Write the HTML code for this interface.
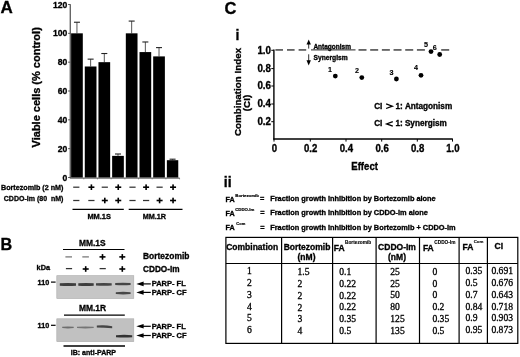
<!DOCTYPE html>
<html><head><meta charset="utf-8"><style>
html,body{margin:0;padding:0;background:#fff;width:520px;height:357px;overflow:hidden;}
svg{display:block;font-family:"Liberation Sans",sans-serif;will-change:transform;}
</style></head><body>
<svg width="520" height="357" viewBox="0 0 520 357"><defs><filter id="blur" x="-20%" y="-100%" width="140%" height="300%"><feGaussianBlur stdDeviation="0.55"/></filter></defs><text x="0.5" y="13.4" font-size="17" font-weight="bold" font-family="Liberation Sans" text-anchor="start" fill="#000" stroke="#000" stroke-width="0.32" >A</text>
<text x="0" y="0" font-size="11" font-weight="bold" font-family="Liberation Sans" text-anchor="middle" fill="#000" stroke="#000" stroke-width="0.32" transform="translate(39.6,87.3) rotate(-90)">Viable cells (% control)</text>
<line x1="70.3" y1="4.3" x2="70.3" y2="178.0" stroke="#666" stroke-width="1.4" />
<line x1="69.8" y1="178.1" x2="179.6" y2="178.1" stroke="#444" stroke-width="1.0" />
<line x1="83.78999999999999" y1="178.1" x2="83.78999999999999" y2="179.3" stroke="#666" stroke-width="0.8" />
<line x1="97.47" y1="178.1" x2="97.47" y2="179.3" stroke="#666" stroke-width="0.8" />
<line x1="111.14999999999999" y1="178.1" x2="111.14999999999999" y2="179.3" stroke="#666" stroke-width="0.8" />
<line x1="124.82999999999998" y1="178.1" x2="124.82999999999998" y2="179.3" stroke="#666" stroke-width="0.8" />
<line x1="138.51" y1="178.1" x2="138.51" y2="179.3" stroke="#666" stroke-width="0.8" />
<line x1="152.19" y1="178.1" x2="152.19" y2="179.3" stroke="#666" stroke-width="0.8" />
<line x1="165.87" y1="178.1" x2="165.87" y2="179.3" stroke="#666" stroke-width="0.8" />
<line x1="179.54999999999998" y1="178.1" x2="179.54999999999998" y2="179.3" stroke="#666" stroke-width="0.8" />
<line x1="68.1" y1="177.5" x2="70.3" y2="177.5" stroke="#555" stroke-width="1.0" />
<text x="67.4" y="180.51" font-size="8.6" font-weight="bold" font-family="Liberation Sans" text-anchor="end" fill="#000" stroke="#000" stroke-width="0.32" >0</text>
<line x1="68.1" y1="148.66666666666666" x2="70.3" y2="148.66666666666666" stroke="#555" stroke-width="1.0" />
<text x="67.4" y="151.68" font-size="8.6" font-weight="bold" font-family="Liberation Sans" text-anchor="end" fill="#000" stroke="#000" stroke-width="0.32" >20</text>
<line x1="68.1" y1="119.83333333333334" x2="70.3" y2="119.83333333333334" stroke="#555" stroke-width="1.0" />
<text x="67.4" y="122.84" font-size="8.6" font-weight="bold" font-family="Liberation Sans" text-anchor="end" fill="#000" stroke="#000" stroke-width="0.32" >40</text>
<line x1="68.1" y1="91.0" x2="70.3" y2="91.0" stroke="#555" stroke-width="1.0" />
<text x="67.4" y="94.01" font-size="8.6" font-weight="bold" font-family="Liberation Sans" text-anchor="end" fill="#000" stroke="#000" stroke-width="0.32" >60</text>
<line x1="68.1" y1="62.16666666666667" x2="70.3" y2="62.16666666666667" stroke="#555" stroke-width="1.0" />
<text x="67.4" y="65.18" font-size="8.6" font-weight="bold" font-family="Liberation Sans" text-anchor="end" fill="#000" stroke="#000" stroke-width="0.32" >80</text>
<line x1="68.1" y1="33.33333333333334" x2="70.3" y2="33.33333333333334" stroke="#555" stroke-width="1.0" />
<text x="67.4" y="36.34" font-size="8.6" font-weight="bold" font-family="Liberation Sans" text-anchor="end" fill="#000" stroke="#000" stroke-width="0.32" >100</text>
<line x1="68.1" y1="4.5" x2="70.3" y2="4.5" stroke="#555" stroke-width="1.0" />
<text x="67.4" y="7.51" font-size="8.6" font-weight="bold" font-family="Liberation Sans" text-anchor="end" fill="#000" stroke="#000" stroke-width="0.32" >120</text>
<line x1="76.94999999999999" y1="22.232499999999987" x2="76.94999999999999" y2="33.33333333333334" stroke="#555" stroke-width="1.0" />
<line x1="73.94999999999999" y1="22.232499999999987" x2="79.94999999999999" y2="22.232499999999987" stroke="#222" stroke-width="1.1" />
<rect x="71.1" y="33.33333333333334" width="11.7" height="144.16666666666666" fill="#000" />
<line x1="90.63" y1="59.13916666666668" x2="90.63" y2="66.49166666666667" stroke="#555" stroke-width="1.0" />
<line x1="87.63" y1="59.13916666666668" x2="93.63" y2="59.13916666666668" stroke="#222" stroke-width="1.1" />
<rect x="84.78" y="66.49166666666667" width="11.7" height="111.00833333333333" fill="#000" />
<line x1="104.30999999999999" y1="53.516666666666666" x2="104.30999999999999" y2="62.16666666666667" stroke="#555" stroke-width="1.0" />
<line x1="101.30999999999999" y1="53.516666666666666" x2="107.30999999999999" y2="53.516666666666666" stroke="#222" stroke-width="1.1" />
<rect x="98.46" y="62.16666666666667" width="11.7" height="115.33333333333333" fill="#000" />
<line x1="117.98999999999998" y1="154.00083333333333" x2="117.98999999999998" y2="155.875" stroke="#555" stroke-width="1.0" />
<line x1="114.98999999999998" y1="154.00083333333333" x2="120.98999999999998" y2="154.00083333333333" stroke="#222" stroke-width="1.1" />
<rect x="112.13999999999999" y="155.875" width="11.7" height="21.625" fill="#000" />
<line x1="131.67" y1="21.07916666666668" x2="131.67" y2="33.33333333333334" stroke="#555" stroke-width="1.0" />
<line x1="128.67" y1="21.07916666666668" x2="134.67" y2="21.07916666666668" stroke="#222" stroke-width="1.1" />
<rect x="125.82" y="33.33333333333334" width="11.7" height="144.16666666666666" fill="#000" />
<line x1="145.35" y1="41.98333333333335" x2="145.35" y2="52.075" stroke="#555" stroke-width="1.0" />
<line x1="142.35" y1="41.98333333333335" x2="148.35" y2="41.98333333333335" stroke="#222" stroke-width="1.1" />
<rect x="139.5" y="52.075" width="11.7" height="125.425" fill="#000" />
<line x1="159.03" y1="47.60583333333335" x2="159.03" y2="56.400000000000006" stroke="#555" stroke-width="1.0" />
<line x1="156.03" y1="47.60583333333335" x2="162.03" y2="47.60583333333335" stroke="#222" stroke-width="1.1" />
<rect x="153.18" y="56.400000000000006" width="11.7" height="121.1" fill="#000" />
<line x1="172.55999999999997" y1="159.19083333333333" x2="172.55999999999997" y2="160.2" stroke="#555" stroke-width="1.0" />
<line x1="169.55999999999997" y1="159.19083333333333" x2="175.55999999999997" y2="159.19083333333333" stroke="#222" stroke-width="1.1" />
<rect x="166.85999999999999" y="160.2" width="11.4" height="17.3" fill="#000" />
<text x="1.0" y="189.9" font-size="7.6" font-weight="bold" font-family="Liberation Sans" text-anchor="start" fill="#000" stroke="#000" stroke-width="0.32"  textLength="62.4" lengthAdjust="spacingAndGlyphs">Bortezomib (2 nM)</text>
<text x="3.8" y="201.4" font-size="7.6" font-weight="bold" font-family="Liberation Sans" text-anchor="start" fill="#000" stroke="#000" stroke-width="0.32"  textLength="59.6" lengthAdjust="spacingAndGlyphs">CDDO-Im (80 &#160;nM)</text>
<rect x="73.2" y="186.57" width="6.2" height="1.25" fill="#333" />
<rect x="73.2" y="199.88" width="6.2" height="1.25" fill="#333" />
<rect x="88.4" y="186.4" width="6.0" height="1.6" fill="#000" />
<rect x="90.6" y="184.4" width="1.6" height="5.6" fill="#000" />
<rect x="88.3" y="199.88" width="6.2" height="1.25" fill="#333" />
<rect x="101.7" y="186.57" width="6.2" height="1.25" fill="#333" />
<rect x="101.8" y="199.7" width="6.0" height="1.6" fill="#000" />
<rect x="104.0" y="197.7" width="1.6" height="5.6" fill="#000" />
<rect x="115.25" y="186.4" width="6.0" height="1.6" fill="#000" />
<rect x="117.45" y="184.4" width="1.6" height="5.6" fill="#000" />
<rect x="115.25" y="199.7" width="6.0" height="1.6" fill="#000" />
<rect x="117.45" y="197.7" width="1.6" height="5.6" fill="#000" />
<rect x="129.4" y="186.57" width="6.2" height="1.25" fill="#333" />
<rect x="129.4" y="199.88" width="6.2" height="1.25" fill="#333" />
<rect x="143.1" y="186.4" width="6.0" height="1.6" fill="#000" />
<rect x="145.3" y="184.4" width="1.6" height="5.6" fill="#000" />
<rect x="143.0" y="199.88" width="6.2" height="1.25" fill="#333" />
<rect x="156.5" y="186.57" width="6.2" height="1.25" fill="#333" />
<rect x="156.6" y="199.7" width="6.0" height="1.6" fill="#000" />
<rect x="158.8" y="197.7" width="1.6" height="5.6" fill="#000" />
<rect x="170.05" y="186.4" width="6.0" height="1.6" fill="#000" />
<rect x="172.25" y="184.4" width="1.6" height="5.6" fill="#000" />
<rect x="170.05" y="199.7" width="6.0" height="1.6" fill="#000" />
<rect x="172.25" y="197.7" width="1.6" height="5.6" fill="#000" />
<line x1="72.5" y1="209.3" x2="123.8" y2="209.3" stroke="#000" stroke-width="1.2" />
<line x1="128.7" y1="209.3" x2="182.5" y2="209.3" stroke="#000" stroke-width="1.2" />
<text x="99.2" y="218.86" font-size="7.9" font-weight="bold" font-family="Liberation Sans" text-anchor="middle" fill="#000" stroke="#000" stroke-width="0.32"  textLength="23.6" lengthAdjust="spacingAndGlyphs">MM.1S</text>
<text x="154.4" y="218.86" font-size="7.9" font-weight="bold" font-family="Liberation Sans" text-anchor="middle" fill="#000" stroke="#000" stroke-width="0.32"  textLength="23.4" lengthAdjust="spacingAndGlyphs">MM.1R</text>
<text x="0.4" y="250.2" font-size="16.2" font-weight="bold" font-family="Liberation Sans" text-anchor="start" fill="#000" stroke="#000" stroke-width="0.32" >B</text>
<text x="92.3" y="245.9" font-size="9.3" font-weight="bold" font-family="Liberation Sans" text-anchor="middle" fill="#000" stroke="#000" stroke-width="0.32"  textLength="26.6" lengthAdjust="spacingAndGlyphs">MM.1S</text>
<line x1="63" y1="249.5" x2="124.5" y2="249.5" stroke="#000" stroke-width="1.2" />
<rect x="65.4" y="256.27" width="6.6" height="1.25" fill="#767676" />
<rect x="65.9" y="267.98" width="6.2" height="1.25" fill="#333" />
<rect x="82.3" y="256.27" width="6.6" height="1.25" fill="#767676" />
<rect x="82.7" y="268.2" width="6.0" height="1.6" fill="#000" />
<rect x="84.9" y="266.2" width="1.6" height="5.6" fill="#000" />
<rect x="99.5" y="256.1" width="6.0" height="1.6" fill="#000" />
<rect x="101.7" y="254.1" width="1.6" height="5.6" fill="#000" />
<rect x="99.6" y="267.98" width="6.2" height="1.25" fill="#333" />
<rect x="119.3" y="256.1" width="6.0" height="1.6" fill="#000" />
<rect x="121.5" y="254.1" width="1.6" height="5.6" fill="#000" />
<rect x="119.3" y="268.2" width="6.0" height="1.6" fill="#000" />
<rect x="121.5" y="266.2" width="1.6" height="5.6" fill="#000" />
<text x="143.0" y="259.4" font-size="8.6" font-weight="bold" font-family="Liberation Sans" text-anchor="start" fill="#000" stroke="#000" stroke-width="0.32"  textLength="46.4" lengthAdjust="spacingAndGlyphs">Bortezomib</text>
<text x="143.0" y="271.5" font-size="8.6" font-weight="bold" font-family="Liberation Sans" text-anchor="start" fill="#000" stroke="#000" stroke-width="0.32"  textLength="36.6" lengthAdjust="spacingAndGlyphs">CDDO-Im</text>
<text x="36.6" y="269.9" font-size="7.3" font-weight="bold" font-family="Liberation Sans" text-anchor="start" fill="#000" stroke="#000" stroke-width="0.32" >kDa</text>
<rect x="56.8" y="275.7" width="77" height="22.8" fill="#c6c6c6" stroke="#aaa" stroke-width="0.6"/>
<rect x="56.8" y="318.8" width="77" height="22.8" fill="#c1c1c1" stroke="#aaa" stroke-width="0.6"/>
<path d="M59.8 283.35 Q67.9 282.65000000000003 76 283.35 L76 285.65 Q67.9 286.34999999999997 59.8 285.65 Z" fill="#3c3c3c" opacity="1" filter="url(#blur)"/>
<path d="M78.3 283.35 Q86.0 282.65000000000003 93.7 283.35 L93.7 285.65 Q86.0 286.34999999999997 78.3 285.65 Z" fill="#3c3c3c" opacity="1" filter="url(#blur)"/>
<path d="M96 283.3 Q103.85 282.6 111.7 283.3 L111.7 285.49999999999994 Q103.85 286.19999999999993 96 285.49999999999994 Z" fill="#444" opacity="1" filter="url(#blur)"/>
<path d="M115.2 283.05 Q122.9 282.35 130.6 283.05 L130.6 284.95 Q122.9 285.65 115.2 284.95 Z" fill="#444" opacity="1" filter="url(#blur)"/>
<path d="M115.8 292.15000000000003 Q123.19999999999999 291.45000000000005 130.6 292.15000000000003 L130.6 294.05 Q123.19999999999999 294.75 115.8 294.05 Z" fill="#474747" opacity="1" filter="url(#blur)"/>
<path d="M62.2 326.75 Q67.95 326.05 73.7 326.75 L73.7 328.04999999999995 Q67.95 328.74999999999994 62.2 328.04999999999995 Z" fill="#6e6e6e" opacity="1" filter="url(#blur)"/>
<path d="M77 326.75 Q85.35 326.05 93.7 326.75 L93.7 328.04999999999995 Q85.35 328.74999999999994 77 328.04999999999995 Z" fill="#757575" opacity="1" filter="url(#blur)"/>
<path d="M96.8 325.55 Q104.5 324.45000000000005 112.2 326.35 L112.2 328.25 Q104.5 327.75 96.8 327.45 Z" fill="#444" opacity="1" filter="url(#blur)"/>
<path d="M116 335.15 Q124.1 334.45 132.2 335.15 L132.2 337.25 Q124.1 337.95 116 337.25 Z" fill="#333" opacity="1" filter="url(#blur)"/>
<text x="37.6" y="284.65" font-size="7.2" font-weight="bold" font-family="Liberation Sans" text-anchor="start" fill="#000" stroke="#000" stroke-width="0.32" >110</text>
<rect x="51.0" y="281.5" width="4.6" height="1.2" fill="#000" />
<text x="37.6" y="327.85" font-size="7.2" font-weight="bold" font-family="Liberation Sans" text-anchor="start" fill="#000" stroke="#000" stroke-width="0.32" >110</text>
<rect x="51.0" y="324.7" width="4.6" height="1.2" fill="#000" />
<path d="M136.3 283.9 L143.6 281.59999999999997 L143.6 286.2 Z" fill="#000"/>
<rect x="143" y="283.29999999999995" width="7.8" height="1.2" fill="#000" />
<text x="151.7" y="286.35" font-size="7.5" font-weight="bold" font-family="Liberation Sans" text-anchor="start" fill="#000" stroke="#000" stroke-width="0.32" >PARP- FL</text>
<path d="M136.3 292.4 L143.6 290.09999999999997 L143.6 294.7 Z" fill="#000"/>
<rect x="143" y="291.79999999999995" width="7.8" height="1.2" fill="#000" />
<text x="151.7" y="294.85" font-size="7.5" font-weight="bold" font-family="Liberation Sans" text-anchor="start" fill="#000" stroke="#000" stroke-width="0.32" >PARP- CF</text>
<path d="M136.3 326.3 L143.6 324.0 L143.6 328.6 Z" fill="#000"/>
<rect x="143" y="325.7" width="7.8" height="1.2" fill="#000" />
<text x="151.7" y="328.75" font-size="7.5" font-weight="bold" font-family="Liberation Sans" text-anchor="start" fill="#000" stroke="#000" stroke-width="0.32" >PARP- FL</text>
<path d="M136.3 335.5 L143.6 333.2 L143.6 337.8 Z" fill="#000"/>
<rect x="143" y="334.9" width="7.8" height="1.2" fill="#000" />
<text x="151.7" y="337.95" font-size="7.5" font-weight="bold" font-family="Liberation Sans" text-anchor="start" fill="#000" stroke="#000" stroke-width="0.32" >PARP- CF</text>
<text x="92.5" y="311.0" font-size="9.3" font-weight="bold" font-family="Liberation Sans" text-anchor="middle" fill="#000" stroke="#000" stroke-width="0.32"  textLength="27.2" lengthAdjust="spacingAndGlyphs">MM.1R</text>
<line x1="64" y1="315.1" x2="124.8" y2="315.1" stroke="#000" stroke-width="1.2" />
<line x1="63.5" y1="346.0" x2="125" y2="346.0" stroke="#000" stroke-width="1.3" />
<text x="93.4" y="355.3" font-size="7.5" font-weight="bold" font-family="Liberation Sans" text-anchor="middle" fill="#000" stroke="#000" stroke-width="0.32"  textLength="45.3" lengthAdjust="spacingAndGlyphs">IB: anti-PARP</text>
<text x="224.5" y="14.0" font-size="16.5" font-weight="bold" font-family="Liberation Sans" text-anchor="start" fill="#000" stroke="#000" stroke-width="0.32" >C</text>
<text x="235.6" y="39.5" font-size="14" font-weight="bold" font-family="Liberation Sans" text-anchor="start" fill="#000" stroke="#000" stroke-width="0.32" >i</text>
<text x="0" y="0" font-size="9.8" font-weight="bold" font-family="Liberation Sans" text-anchor="middle" fill="#000" stroke="#000" stroke-width="0.32" transform="translate(241.4,92) rotate(-90)">Combination Index</text>
<text x="0" y="0" font-size="9.8" font-weight="bold" font-family="Liberation Sans" text-anchor="middle" fill="#000" stroke="#000" stroke-width="0.32" transform="translate(250.2,103.0) rotate(-90)">(CI)</text>
<line x1="273.9" y1="49.4" x2="273.9" y2="139.6" stroke="#000" stroke-width="1.4" />
<line x1="273.29999999999995" y1="139.0" x2="452.8" y2="139.0" stroke="#000" stroke-width="1.3" />
<line x1="271.29999999999995" y1="50.3" x2="273.9" y2="50.3" stroke="#000" stroke-width="1.0" />
<text x="0" y="0" font-size="9.8" font-weight="bold" font-family="Liberation Sans" text-anchor="end" fill="#000" stroke="#000" stroke-width="0.32"  transform="translate(271.0,53.73) scale(1,1.04)">1.0</text>
<line x1="271.29999999999995" y1="68.6" x2="273.9" y2="68.6" stroke="#000" stroke-width="1.0" />
<text x="0" y="0" font-size="9.8" font-weight="bold" font-family="Liberation Sans" text-anchor="end" fill="#000" stroke="#000" stroke-width="0.32"  transform="translate(271.0,72.03) scale(1,1.04)">0.8</text>
<line x1="271.29999999999995" y1="86.0" x2="273.9" y2="86.0" stroke="#000" stroke-width="1.0" />
<text x="0" y="0" font-size="9.8" font-weight="bold" font-family="Liberation Sans" text-anchor="end" fill="#000" stroke="#000" stroke-width="0.32"  transform="translate(271.0,89.43) scale(1,1.04)">0.6</text>
<line x1="271.29999999999995" y1="104.0" x2="273.9" y2="104.0" stroke="#000" stroke-width="1.0" />
<text x="0" y="0" font-size="9.8" font-weight="bold" font-family="Liberation Sans" text-anchor="end" fill="#000" stroke="#000" stroke-width="0.32"  transform="translate(271.0,107.43) scale(1,1.04)">0.4</text>
<line x1="271.29999999999995" y1="121.7" x2="273.9" y2="121.7" stroke="#000" stroke-width="1.0" />
<text x="0" y="0" font-size="9.8" font-weight="bold" font-family="Liberation Sans" text-anchor="end" fill="#000" stroke="#000" stroke-width="0.32"  transform="translate(271.0,125.13) scale(1,1.04)">0.2</text>
<line x1="274" y1="139.0" x2="274" y2="141.6" stroke="#000" stroke-width="1.0" />
<text x="0" y="0" font-size="9.6" font-weight="bold" font-family="Liberation Sans" text-anchor="middle" fill="#000" stroke="#000" stroke-width="0.32"  transform="translate(274.3,151.9) scale(1,1.08)">0</text>
<line x1="310.3" y1="139.0" x2="310.3" y2="141.6" stroke="#000" stroke-width="1.0" />
<text x="0" y="0" font-size="9.6" font-weight="bold" font-family="Liberation Sans" text-anchor="middle" fill="#000" stroke="#000" stroke-width="0.32"  transform="translate(310.7,152.0) scale(1,1.08)">0.2</text>
<line x1="346" y1="139.0" x2="346" y2="141.6" stroke="#000" stroke-width="1.0" />
<text x="0" y="0" font-size="9.6" font-weight="bold" font-family="Liberation Sans" text-anchor="middle" fill="#000" stroke="#000" stroke-width="0.32"  transform="translate(346.4,152.0) scale(1,1.08)">0.4</text>
<line x1="381.7" y1="139.0" x2="381.7" y2="141.6" stroke="#000" stroke-width="1.0" />
<text x="0" y="0" font-size="9.6" font-weight="bold" font-family="Liberation Sans" text-anchor="middle" fill="#000" stroke="#000" stroke-width="0.32"  transform="translate(382.09999999999997,152.0) scale(1,1.08)">0.6</text>
<line x1="417.3" y1="139.0" x2="417.3" y2="141.6" stroke="#000" stroke-width="1.0" />
<text x="0" y="0" font-size="9.6" font-weight="bold" font-family="Liberation Sans" text-anchor="middle" fill="#000" stroke="#000" stroke-width="0.32"  transform="translate(417.7,152.0) scale(1,1.08)">0.8</text>
<line x1="452.5" y1="139.0" x2="452.5" y2="141.6" stroke="#000" stroke-width="1.0" />
<text x="0" y="0" font-size="9.6" font-weight="bold" font-family="Liberation Sans" text-anchor="middle" fill="#000" stroke="#000" stroke-width="0.32"  transform="translate(452.9,152.0) scale(1,1.08)">1.0</text>
<text x="0" y="0" font-size="9.6" font-weight="bold" font-family="Liberation Sans" text-anchor="middle" fill="#000" stroke="#000" stroke-width="0.32"  transform="translate(364.6,170.1) scale(1,1.1)">Effect</text>
<rect x="275.4" y="49.4" width="7.6" height="1.1" fill="#000" />
<rect x="287.0" y="49.4" width="7.6" height="1.1" fill="#000" />
<rect x="298.59999999999997" y="49.4" width="7.6" height="1.1" fill="#000" />
<rect x="311" y="49.4" width="44.5" height="1.0" fill="#222" />
<rect x="358.5" y="49.4" width="8.0" height="1.1" fill="#000" />
<rect x="370.18" y="49.4" width="8.0" height="1.1" fill="#000" />
<rect x="381.86" y="49.4" width="8.0" height="1.1" fill="#000" />
<rect x="393.54" y="49.4" width="8.0" height="1.1" fill="#000" />
<rect x="405.22" y="49.4" width="8.0" height="1.1" fill="#000" />
<rect x="416.9" y="49.4" width="8.0" height="1.1" fill="#000" />
<rect x="441.2" y="49.4" width="8.0" height="1.1" fill="#000" />
<line x1="308.7" y1="43" x2="308.7" y2="48.6" stroke="#333" stroke-width="1.0" />
<path d="M308.7 39.6 L306.5 44.6 L310.9 44.6 Z" fill="#000"/>
<line x1="308.7" y1="54.3" x2="308.7" y2="61" stroke="#333" stroke-width="1.0" />
<path d="M308.7 65.6 L306.5 60.2 L310.9 60.2 Z" fill="#000"/>
<text x="313.4" y="48.7" font-size="6.5" font-weight="bold" font-family="Liberation Sans" text-anchor="start" fill="#000" stroke="#000" stroke-width="0.32" >Antagonism</text>
<text x="313.5" y="59.5" font-size="6.7" font-weight="bold" font-family="Liberation Sans" text-anchor="start" fill="#000" stroke="#000" stroke-width="0.32" >Synergism</text>
<circle cx="335.3" cy="76.1" r="2.4" fill="#000"/>
<text x="330" y="71.52" font-size="7.2" font-weight="bold" font-family="Liberation Sans" text-anchor="middle" fill="#000" stroke="#000" stroke-width="0.15" >1</text>
<circle cx="361.8" cy="77.6" r="2.4" fill="#000"/>
<text x="357" y="72.92" font-size="7.2" font-weight="bold" font-family="Liberation Sans" text-anchor="middle" fill="#000" stroke="#000" stroke-width="0.15" >2</text>
<circle cx="396.4" cy="79" r="2.4" fill="#000"/>
<text x="391.5" y="74.92" font-size="7.2" font-weight="bold" font-family="Liberation Sans" text-anchor="middle" fill="#000" stroke="#000" stroke-width="0.15" >3</text>
<circle cx="421" cy="75.3" r="2.4" fill="#000"/>
<text x="416" y="70.02" font-size="7.2" font-weight="bold" font-family="Liberation Sans" text-anchor="middle" fill="#000" stroke="#000" stroke-width="0.15" >4</text>
<circle cx="431" cy="51.6" r="2.4" fill="#000"/>
<text x="426.1" y="46.92" font-size="7.2" font-weight="bold" font-family="Liberation Sans" text-anchor="middle" fill="#000" stroke="#000" stroke-width="0.15" >5</text>
<circle cx="439.7" cy="54.5" r="2.4" fill="#000"/>
<text x="434.8" y="49.82" font-size="7.2" font-weight="bold" font-family="Liberation Sans" text-anchor="middle" fill="#000" stroke="#000" stroke-width="0.15" >6</text>
<text x="374.2" y="108.5" font-size="8.2" font-weight="bold" font-family="Liberation Sans" text-anchor="start" fill="#000" stroke="#000" stroke-width="0.32" >CI</text>
<text x="395.4" y="108.5" font-size="8.2" font-weight="bold" font-family="Liberation Sans" text-anchor="start" fill="#000" stroke="#000" stroke-width="0.32" >1:</text>
<text x="404.9" y="108.5" font-size="8.2" font-weight="bold" font-family="Liberation Sans" text-anchor="start" fill="#000" stroke="#000" stroke-width="0.32" >Antagonism</text>
<path d="M386.1 103.9 L392.3 106.2 L386.1 108.5" fill="none" stroke="#000" stroke-width="1.3" stroke-linejoin="miter"/>
<text x="374.2" y="126.2" font-size="8.2" font-weight="bold" font-family="Liberation Sans" text-anchor="start" fill="#000" stroke="#000" stroke-width="0.32" >CI</text>
<text x="395.4" y="126.2" font-size="8.2" font-weight="bold" font-family="Liberation Sans" text-anchor="start" fill="#000" stroke="#000" stroke-width="0.32" >1:</text>
<text x="404.9" y="126.2" font-size="8.2" font-weight="bold" font-family="Liberation Sans" text-anchor="start" fill="#000" stroke="#000" stroke-width="0.32" >Synergism</text>
<path d="M392.8 121.60000000000001 L386.6 123.9 L392.8 126.2" fill="none" stroke="#000" stroke-width="1.3" stroke-linejoin="miter"/>
<text x="223.8" y="187.0" font-size="14" font-weight="bold" font-family="Liberation Sans" text-anchor="start" fill="#000" stroke="#000" stroke-width="0.32" >ii</text>
<text x="225.6" y="201.7" font-size="7.2" font-weight="bold" font-family="Liberation Sans" text-anchor="start" fill="#000" stroke="#000" stroke-width="0.32" >FA</text>
<text x="235.3" y="196.79999999999998" font-size="4.27" font-weight="bold" font-family="Liberation Sans" text-anchor="start" fill="#000" stroke="#000" stroke-width="0.2" >Bortezomib</text>
<text x="259.9" y="201.39999999999998" font-size="7.4" font-weight="bold" font-family="Liberation Sans" text-anchor="start" fill="#000" stroke="#000" stroke-width="0.32" >=</text>
<text x="270.2" y="201.29999999999998" font-size="7.38" font-weight="bold" font-family="Liberation Sans" text-anchor="start" fill="#000" stroke="#000" stroke-width="0.32" >Fraction growth inhibition by Bortezomib alone</text>
<text x="225.6" y="215.5" font-size="7.2" font-weight="bold" font-family="Liberation Sans" text-anchor="start" fill="#000" stroke="#000" stroke-width="0.32" >FA</text>
<text x="235.2" y="210.6" font-size="4.3" font-weight="bold" font-family="Liberation Sans" text-anchor="start" fill="#000" stroke="#000" stroke-width="0.2" >CDDO-Im</text>
<text x="260.3" y="215.2" font-size="7.4" font-weight="bold" font-family="Liberation Sans" text-anchor="start" fill="#000" stroke="#000" stroke-width="0.32" >=</text>
<text x="270.2" y="215.1" font-size="7.38" font-weight="bold" font-family="Liberation Sans" text-anchor="start" fill="#000" stroke="#000" stroke-width="0.32" >Fraction growth inhibition by CDDO-Im alone</text>
<text x="225.6" y="230.2" font-size="7.2" font-weight="bold" font-family="Liberation Sans" text-anchor="start" fill="#000" stroke="#000" stroke-width="0.32" >FA</text>
<text x="236.3" y="225.29999999999998" font-size="4.0" font-weight="bold" font-family="Liberation Sans" text-anchor="start" fill="#000" stroke="#000" stroke-width="0.2" >Com</text>
<text x="260.3" y="229.89999999999998" font-size="7.4" font-weight="bold" font-family="Liberation Sans" text-anchor="start" fill="#000" stroke="#000" stroke-width="0.32" >=</text>
<text x="270.2" y="229.79999999999998" font-size="7.38" font-weight="bold" font-family="Liberation Sans" text-anchor="start" fill="#000" stroke="#000" stroke-width="0.32" >Fraction growth inhibition by Bortezomib + CDDO-Im</text>
<rect x="225.9" y="237.4" width="291.9" height="105.99999999999997" fill="none" stroke="#000" stroke-width="1.2"/>
<line x1="225.9" y1="263.5" x2="517.8" y2="263.5" stroke="#000" stroke-width="1.2" />
<line x1="281.6" y1="237.4" x2="281.6" y2="343.4" stroke="#000" stroke-width="1.2" />
<line x1="332.6" y1="237.4" x2="332.6" y2="343.4" stroke="#000" stroke-width="1.2" />
<line x1="376.1" y1="237.4" x2="376.1" y2="343.4" stroke="#000" stroke-width="1.2" />
<line x1="419.5" y1="237.4" x2="419.5" y2="343.4" stroke="#000" stroke-width="1.2" />
<line x1="459.1" y1="237.4" x2="459.1" y2="343.4" stroke="#000" stroke-width="1.2" />
<line x1="487.4" y1="237.4" x2="487.4" y2="343.4" stroke="#000" stroke-width="1.2" />
<text x="252.2" y="250.38" font-size="8.5" font-weight="bold" font-family="Liberation Sans" text-anchor="middle" fill="#000" stroke="#000" stroke-width="0.32" >Combination</text>
<text x="307" y="250.38" font-size="8.5" font-weight="bold" font-family="Liberation Sans" text-anchor="middle" fill="#000" stroke="#000" stroke-width="0.32" >Bortezomib</text>
<text x="306.5" y="260.48" font-size="8.5" font-weight="bold" font-family="Liberation Sans" text-anchor="middle" fill="#000" stroke="#000" stroke-width="0.32" >(nM)</text>
<text x="333.8" y="250.57" font-size="8.5" font-weight="bold" font-family="Liberation Sans" text-anchor="start" fill="#000" stroke="#000" stroke-width="0.32" >FA</text>
<text x="345.0" y="243.7" font-size="4.75" font-weight="bold" font-family="Liberation Sans" text-anchor="start" fill="#000" stroke="#000" stroke-width="0.12" >Bortezomib</text>
<text x="397" y="250.38" font-size="8.5" font-weight="bold" font-family="Liberation Sans" text-anchor="middle" fill="#000" stroke="#000" stroke-width="0.32" >CDDO-Im</text>
<text x="397" y="260.48" font-size="8.5" font-weight="bold" font-family="Liberation Sans" text-anchor="middle" fill="#000" stroke="#000" stroke-width="0.32" >(nM)</text>
<text x="422.9" y="250.57" font-size="8.5" font-weight="bold" font-family="Liberation Sans" text-anchor="start" fill="#000" stroke="#000" stroke-width="0.32" >FA</text>
<text x="434.3" y="243.7" font-size="4.75" font-weight="bold" font-family="Liberation Sans" text-anchor="start" fill="#000" stroke="#000" stroke-width="0.12" >CDDO-Im</text>
<text x="462.6" y="250.38" font-size="8.5" font-weight="bold" font-family="Liberation Sans" text-anchor="start" fill="#000" stroke="#000" stroke-width="0.32" >FA</text>
<text x="473.7" y="243.4" font-size="4.4" font-weight="bold" font-family="Liberation Sans" text-anchor="start" fill="#000" stroke="#000" stroke-width="0.12" >Com</text>
<text x="498.8" y="248.78" font-size="8.5" font-weight="bold" font-family="Liberation Sans" text-anchor="middle" fill="#000" stroke="#000" stroke-width="0.32" >CI</text>
<text x="249.4" y="274.26" font-size="9.6" font-weight="normal" font-family="Liberation Serif" text-anchor="middle" fill="#000" stroke="#000" stroke-width="0.3" >1</text>
<text x="297.5" y="275.26" font-size="9.6" font-weight="normal" font-family="Liberation Serif" text-anchor="start" fill="#000" stroke="#000" stroke-width="0.3" >1.5</text>
<text x="339.2" y="275.06" font-size="9.6" font-weight="normal" font-family="Liberation Serif" text-anchor="start" fill="#000" stroke="#000" stroke-width="0.3" >0.1</text>
<text x="390.3" y="274.76" font-size="9.6" font-weight="normal" font-family="Liberation Serif" text-anchor="start" fill="#000" stroke="#000" stroke-width="0.3" >25</text>
<text x="432.4" y="274.76" font-size="9.6" font-weight="normal" font-family="Liberation Serif" text-anchor="start" fill="#000" stroke="#000" stroke-width="0.3" >0</text>
<text x="465.5" y="274.26" font-size="9.6" font-weight="normal" font-family="Liberation Serif" text-anchor="start" fill="#000" stroke="#000" stroke-width="0.3" >0.35</text>
<text x="491.4" y="274.26" font-size="9.6" font-weight="normal" font-family="Liberation Serif" text-anchor="start" fill="#000" stroke="#000" stroke-width="0.3" >0.691</text>
<text x="249.4" y="286.01" font-size="9.6" font-weight="normal" font-family="Liberation Serif" text-anchor="middle" fill="#000" stroke="#000" stroke-width="0.3" >2</text>
<text x="297.5" y="287.01" font-size="9.6" font-weight="normal" font-family="Liberation Serif" text-anchor="start" fill="#000" stroke="#000" stroke-width="0.3" >2</text>
<text x="339.2" y="286.81" font-size="9.6" font-weight="normal" font-family="Liberation Serif" text-anchor="start" fill="#000" stroke="#000" stroke-width="0.3" >0.22</text>
<text x="390.3" y="286.51" font-size="9.6" font-weight="normal" font-family="Liberation Serif" text-anchor="start" fill="#000" stroke="#000" stroke-width="0.3" >25</text>
<text x="432.4" y="286.51" font-size="9.6" font-weight="normal" font-family="Liberation Serif" text-anchor="start" fill="#000" stroke="#000" stroke-width="0.3" >0</text>
<text x="465.5" y="286.01" font-size="9.6" font-weight="normal" font-family="Liberation Serif" text-anchor="start" fill="#000" stroke="#000" stroke-width="0.3" >0.5</text>
<text x="491.4" y="286.01" font-size="9.6" font-weight="normal" font-family="Liberation Serif" text-anchor="start" fill="#000" stroke="#000" stroke-width="0.3" >0.676</text>
<text x="249.4" y="297.76" font-size="9.6" font-weight="normal" font-family="Liberation Serif" text-anchor="middle" fill="#000" stroke="#000" stroke-width="0.3" >3</text>
<text x="297.5" y="298.76" font-size="9.6" font-weight="normal" font-family="Liberation Serif" text-anchor="start" fill="#000" stroke="#000" stroke-width="0.3" >2</text>
<text x="339.2" y="298.56" font-size="9.6" font-weight="normal" font-family="Liberation Serif" text-anchor="start" fill="#000" stroke="#000" stroke-width="0.3" >0.22</text>
<text x="390.3" y="298.26" font-size="9.6" font-weight="normal" font-family="Liberation Serif" text-anchor="start" fill="#000" stroke="#000" stroke-width="0.3" >50</text>
<text x="432.4" y="298.26" font-size="9.6" font-weight="normal" font-family="Liberation Serif" text-anchor="start" fill="#000" stroke="#000" stroke-width="0.3" >0</text>
<text x="465.5" y="297.76" font-size="9.6" font-weight="normal" font-family="Liberation Serif" text-anchor="start" fill="#000" stroke="#000" stroke-width="0.3" >0.7</text>
<text x="491.4" y="297.76" font-size="9.6" font-weight="normal" font-family="Liberation Serif" text-anchor="start" fill="#000" stroke="#000" stroke-width="0.3" >0.643</text>
<text x="249.4" y="309.51" font-size="9.6" font-weight="normal" font-family="Liberation Serif" text-anchor="middle" fill="#000" stroke="#000" stroke-width="0.3" >4</text>
<text x="297.5" y="310.51" font-size="9.6" font-weight="normal" font-family="Liberation Serif" text-anchor="start" fill="#000" stroke="#000" stroke-width="0.3" >2</text>
<text x="339.2" y="310.31" font-size="9.6" font-weight="normal" font-family="Liberation Serif" text-anchor="start" fill="#000" stroke="#000" stroke-width="0.3" >0.22</text>
<text x="390.3" y="310.01" font-size="9.6" font-weight="normal" font-family="Liberation Serif" text-anchor="start" fill="#000" stroke="#000" stroke-width="0.3" >80</text>
<text x="432.4" y="310.01" font-size="9.6" font-weight="normal" font-family="Liberation Serif" text-anchor="start" fill="#000" stroke="#000" stroke-width="0.3" >0.2</text>
<text x="465.5" y="309.51" font-size="9.6" font-weight="normal" font-family="Liberation Serif" text-anchor="start" fill="#000" stroke="#000" stroke-width="0.3" >0.84</text>
<text x="491.4" y="309.51" font-size="9.6" font-weight="normal" font-family="Liberation Serif" text-anchor="start" fill="#000" stroke="#000" stroke-width="0.3" >0.718</text>
<text x="249.4" y="321.26" font-size="9.6" font-weight="normal" font-family="Liberation Serif" text-anchor="middle" fill="#000" stroke="#000" stroke-width="0.3" >5</text>
<text x="297.5" y="322.26" font-size="9.6" font-weight="normal" font-family="Liberation Serif" text-anchor="start" fill="#000" stroke="#000" stroke-width="0.3" >3</text>
<text x="339.2" y="322.06" font-size="9.6" font-weight="normal" font-family="Liberation Serif" text-anchor="start" fill="#000" stroke="#000" stroke-width="0.3" >0.35</text>
<text x="390.3" y="321.76" font-size="9.6" font-weight="normal" font-family="Liberation Serif" text-anchor="start" fill="#000" stroke="#000" stroke-width="0.3" >125</text>
<text x="432.4" y="321.76" font-size="9.6" font-weight="normal" font-family="Liberation Serif" text-anchor="start" fill="#000" stroke="#000" stroke-width="0.3" >0.35</text>
<text x="465.5" y="321.26" font-size="9.6" font-weight="normal" font-family="Liberation Serif" text-anchor="start" fill="#000" stroke="#000" stroke-width="0.3" >0.9</text>
<text x="491.4" y="321.26" font-size="9.6" font-weight="normal" font-family="Liberation Serif" text-anchor="start" fill="#000" stroke="#000" stroke-width="0.3" >0.903</text>
<text x="249.4" y="333.01" font-size="9.6" font-weight="normal" font-family="Liberation Serif" text-anchor="middle" fill="#000" stroke="#000" stroke-width="0.3" >6</text>
<text x="297.5" y="334.01" font-size="9.6" font-weight="normal" font-family="Liberation Serif" text-anchor="start" fill="#000" stroke="#000" stroke-width="0.3" >4</text>
<text x="339.2" y="333.81" font-size="9.6" font-weight="normal" font-family="Liberation Serif" text-anchor="start" fill="#000" stroke="#000" stroke-width="0.3" >0.5</text>
<text x="390.3" y="333.51" font-size="9.6" font-weight="normal" font-family="Liberation Serif" text-anchor="start" fill="#000" stroke="#000" stroke-width="0.3" >135</text>
<text x="432.4" y="333.51" font-size="9.6" font-weight="normal" font-family="Liberation Serif" text-anchor="start" fill="#000" stroke="#000" stroke-width="0.3" >0.5</text>
<text x="465.5" y="333.01" font-size="9.6" font-weight="normal" font-family="Liberation Serif" text-anchor="start" fill="#000" stroke="#000" stroke-width="0.3" >0.95</text>
<text x="491.4" y="333.01" font-size="9.6" font-weight="normal" font-family="Liberation Serif" text-anchor="start" fill="#000" stroke="#000" stroke-width="0.3" >0.873</text></svg>
</body></html>
